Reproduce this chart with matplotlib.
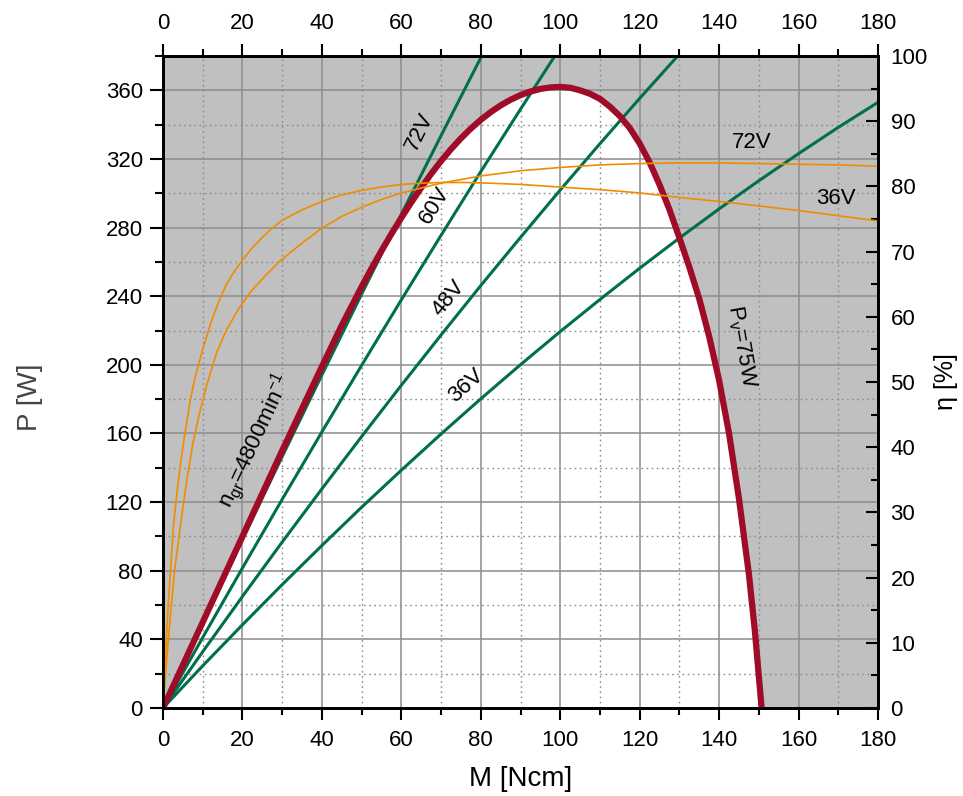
import matplotlib
matplotlib.use('Agg')
import matplotlib.pyplot as plt
from matplotlib.ticker import MultipleLocator

plt.rcParams['font.family'] = ['Liberation Sans', 'DejaVu Sans']

# Leistungsgrenze (P_v = 75 W und n_gr = 4800 min^-1)
limit_m = [0, 10, 20, 30, 40, 45, 50, 52.5, 55, 57.5, 60, 62.5, 65, 67.5, 70,
           72.5, 75, 77.5, 80, 82.5, 85, 87.5, 90, 92.5, 95, 97.5, 100, 102.5,
           105, 107.5, 110, 112.5, 115, 117.5, 120, 122.5, 125, 127.5, 130,
           132.5, 135, 137.5, 140, 142.5, 145, 147.5, 149, 150.7]
limit_p = [0, 50, 100, 150, 199, 223, 245.5, 256.2, 266.5, 276.3, 285.7, 294.7,
           303.2, 311.3, 318.8, 325.7, 332, 337.7, 342.8, 347.3, 351.2, 354.5,
           357.2, 359.3, 360.8, 361.7, 362, 361.5, 360, 358, 355, 350.5, 345, 338,
           329, 318, 305, 290.5, 274, 257, 238.5, 216.5, 191, 160, 122, 78, 45, 0]

# Leistungskennlinien je Spannung
p72_m = [0, 10, 20, 30, 40, 50, 60, 70, 80, 85]
p72_p = [0, 49.4, 98.2, 146.5, 194.1, 241.2, 287.7, 333.6, 379.0, 401.5]
p60_m = [0, 10, 20, 30, 40, 50, 60, 70, 80, 90, 100]
p60_p = [0, 41.1, 81.6, 121.6, 160.9, 199.7, 237.9, 275.5, 312.6, 349.0, 384.9]
p48_m = [0, 10, 20, 30, 40, 50, 60, 70, 80, 90, 100, 110, 120, 130, 135]
p48_p = [0, 32.8, 65.0, 96.7, 127.7, 158.2, 188.1, 217.4, 246.2, 274.3, 301.9,
         328.9, 355.3, 381.1, 393.8]
p36_m = [0, 10, 20, 30, 40, 50, 60, 70, 80, 90, 100, 110, 120, 130, 140, 150,
         160, 170, 180]
p36_p = [0, 24.6, 48.5, 71.9, 94.7, 117.0, 138.6, 159.7, 180.2, 200.1, 219.4,
         238.1, 256.3, 273.9, 290.9, 307.3, 323.1, 338.4, 353.0]

# Wirkungsgrad
eta36_m = [0, 0.5, 1, 1.5, 2, 2.6, 3.4, 4.3, 5.5, 6.8, 8, 10, 12, 14, 16, 18, 20,
           22.5, 25, 27.5, 30, 35, 40, 45, 50, 55, 60, 65, 70, 76, 82, 90, 100,
           110, 120, 130, 140, 150, 160, 170, 180]
eta36_v = [0, 6.5, 12.5, 17.5, 22, 27.6, 32.5, 37, 42, 47, 50.5, 55, 59, 62.3,
           65.0, 67.0, 68.7, 70.6, 72.2, 73.6, 74.8, 76.4, 77.7, 78.7, 79.4, 79.9,
           80.3, 80.5, 80.6, 80.6, 80.5, 80.3, 79.9, 79.5, 79.0, 78.3, 77.7, 77.0,
           76.3, 75.5, 74.7]
eta72_m = [0, 0.5, 1, 2, 3, 4.3, 6, 7.5, 9.3, 11, 13.5, 16, 19, 22, 25.3, 29.5,
           35, 40, 45, 50, 55, 60, 70, 80, 90, 100, 110, 120, 130, 140, 150, 160,
           170, 180]
eta72_v = [0, 4, 8, 15, 21.5, 27.6, 35, 40.5, 45.5, 49.5, 54.5, 58, 61.2, 63.8,
           66.0, 68.6, 71.3, 73.6, 75.4, 76.8, 78.0, 79.0, 80.5, 81.6, 82.4, 82.9,
           83.3, 83.5, 83.6, 83.6, 83.5, 83.4, 83.3, 83.1]

green = '#00704a'
red = '#a00c28'
orange = '#f08c00'
fs_tick = 16
fs_text = 16

fig = plt.figure(figsize=(9.63, 7.96), dpi=100)
ax = fig.add_axes([163 / 963, 1 - 708 / 796, 715 / 963, 652 / 796])
ax.set_facecolor('#c0c0c0')
ax.fill_between(limit_m, 0, limit_p, color='white', zorder=1, lw=0)

ax.set_xlim(0, 180)
ax.set_ylim(0, 380)
ax.xaxis.set_major_locator(MultipleLocator(20))
ax.xaxis.set_minor_locator(MultipleLocator(10))
ax.yaxis.set_major_locator(MultipleLocator(40))
ax.yaxis.set_minor_locator(MultipleLocator(20))
ax.set_axisbelow('line')
ax.grid(which='major', color='#8c8c8c', lw=1.1, ls='-')
ax.grid(which='minor', color='#8c8c8c', lw=1.0, ls=(0, (1.2, 2.5)))

for m, p in [(p72_m, p72_p), (p60_m, p60_p), (p48_m, p48_p), (p36_m, p36_p)]:
    ax.plot(m, p, color=green, lw=2.2, zorder=2)
ax.plot(limit_m, limit_p, color=red, lw=4.5, zorder=3, solid_capstyle='butt')

ax.tick_params(which='both', direction='out', labelsize=fs_tick, width=1.5,
               top=False, right=False)
ax.tick_params(axis='x', which='major', length=8.5, pad=7)
ax.tick_params(axis='x', which='minor', length=5)
ax.tick_params(axis='y', which='major', length=9.5, pad=5)
ax.tick_params(axis='y', which='minor', length=5.5)
for s in ax.spines.values():
    s.set_linewidth(2)

# obere Achse
axt = ax.twiny()
axt.set_xlim(0, 180)
axt.xaxis.set_major_locator(MultipleLocator(20))
axt.xaxis.set_minor_locator(MultipleLocator(10))
axt.tick_params(which='both', direction='out', labelsize=fs_tick, width=1.5)
axt.tick_params(which='major', length=8.5, pad=7)
axt.tick_params(which='minor', length=5)

# rechte Achse Wirkungsgrad
ax2 = ax.twinx()
ax2.set_ylim(0, 100)
ax2.yaxis.set_major_locator(MultipleLocator(10))
ax2.yaxis.set_minor_locator(MultipleLocator(5))
ax2.tick_params(which='both', direction='in', labelsize=fs_tick, width=1.5)
ax2.tick_params(which='major', length=9, pad=9)
ax2.tick_params(which='minor', length=5)
ax2.plot(eta36_m, eta36_v, color=orange, lw=1.2)
ax2.plot(eta72_m, eta72_v, color=orange, lw=1.2)
for s in ax2.spines.values():
    s.set_linewidth(2)

fig.text(30 / 963, 1 - 397 / 796, 'P [W]', rotation=90, fontsize=20,
         color='#444444', ha='center', va='center')
fig.text(946 / 963, 1 - 382 / 796, 'η [%]', rotation=90, fontsize=18,
         ha='center', va='center')
fig.text(521 / 963, 1 - 779 / 796, 'M [Ncm]', fontsize=20, ha='center', va='center')

# Beschriftungen
ax.text(64.7, 336, '72V', rotation=64, fontsize=fs_text, ha='center', va='center', zorder=5)
ax.text(68.5, 293, '60V', rotation=58, fontsize=fs_text, ha='center', va='center', zorder=5)
ax.text(71.8, 239, '48V', rotation=51, fontsize=fs_text, ha='center', va='center', zorder=5)
ax.text(76.3, 188, '36V', rotation=42, fontsize=fs_text, ha='center', va='center', zorder=5)
ax.text(23.2, 156, r'n$_{\mathregular{gr}}$=4800min$^{\mathregular{-1}}$', rotation=65,
        fontsize=fs_text, ha='center', va='center', zorder=5)
ax.text(145.5, 211, r'P$_{\mathregular{v}}$=75W', rotation=-80, fontsize=fs_text,
        ha='center', va='center', zorder=5)
ax2.text(148.3, 86.7, '72V', fontsize=fs_text, ha='center', va='center')
ax2.text(169.4, 78.2, '36V', fontsize=fs_text, ha='center', va='center')

fig.savefig('out.png', dpi=100)
